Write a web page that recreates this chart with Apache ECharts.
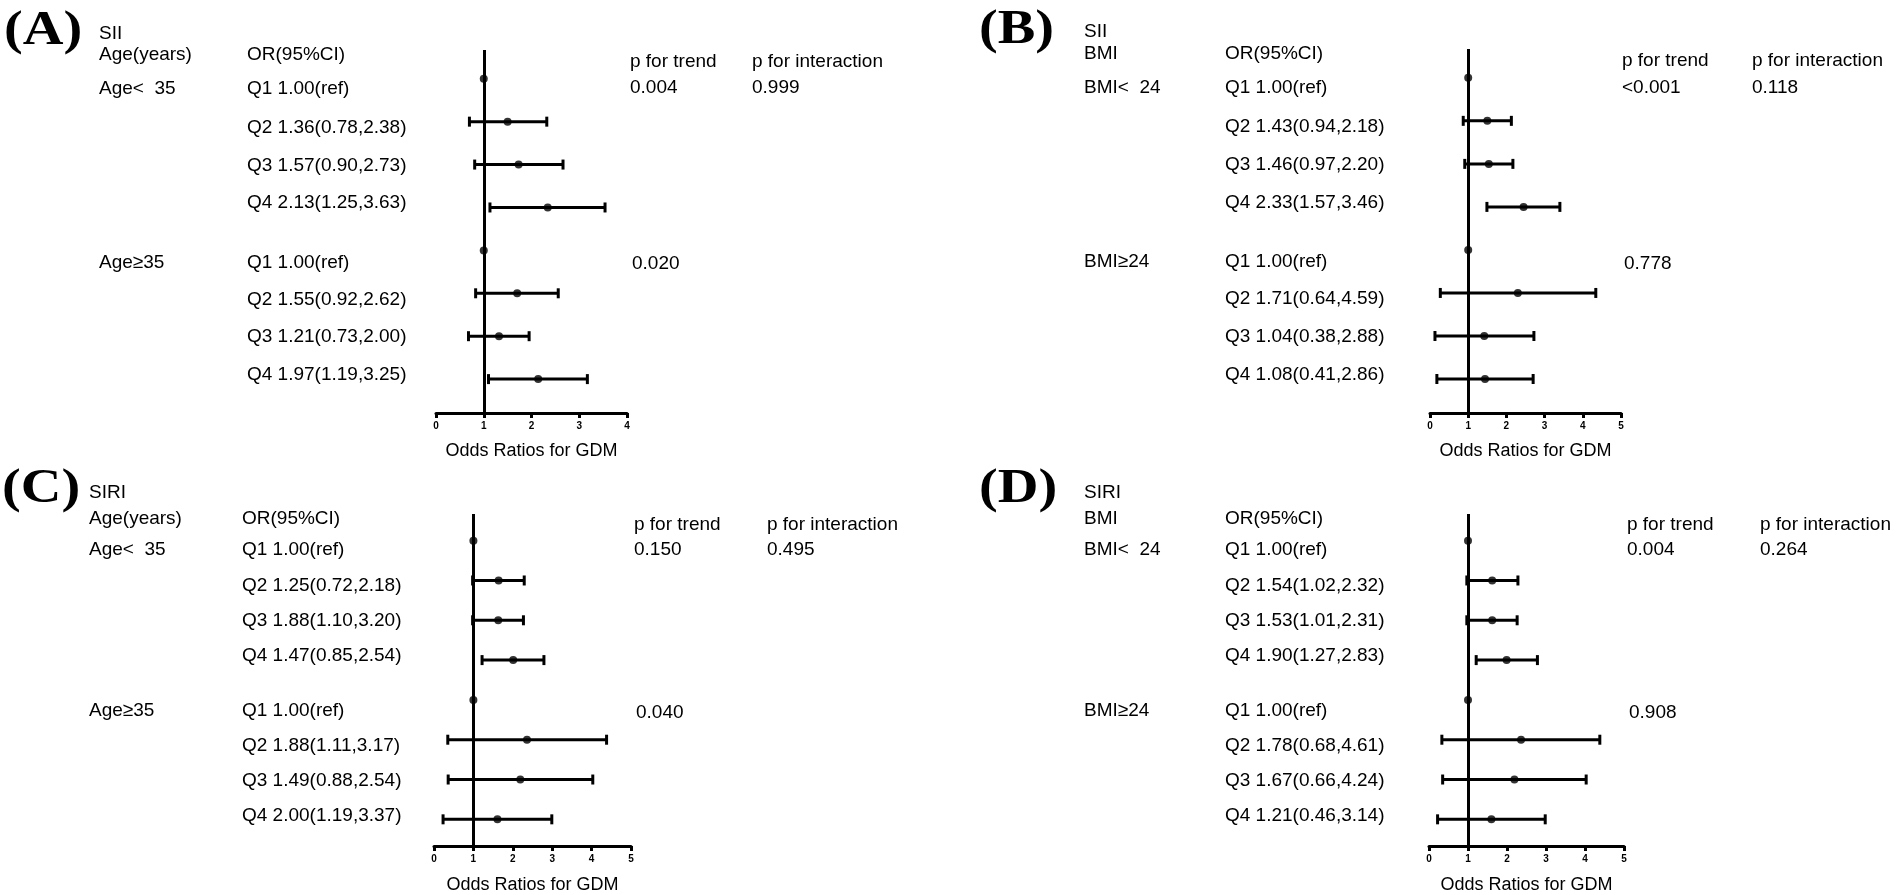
<!DOCTYPE html>
<html><head><meta charset="utf-8">
<script src="https://cdn.jsdelivr.net/npm/echarts@6/dist/echarts.min.js"></script>
<style>html,body{margin:0;padding:0;background:#fff}#c{width:1902px;height:895px}</style>
</head><body><div id="c"></div>
<script>
// ---------------- DATA ----------------
const panelLetters = ['(A)', '(B)', '(C)', '(D)'];
const indexNames = ['SII', 'SII', 'SIRI', 'SIRI'];
const subgroupHeaders = ['Age(years)', 'BMI', 'Age(years)', 'BMI'];
const subgroupLabels = [
  ['Age<  35', 'Age\u226535'],
  ['BMI<  24', 'BMI\u226524'],
  ['Age<  35', 'Age\u226535'],
  ['BMI<  24', 'BMI\u226524']
];
const orHeader = 'OR(95%CI)';
const axisTitle = 'Odds Ratios for GDM';
const pTrendHeader = 'p for trend';
const pInterHeader = 'p for interaction';

const orTextA = ['Q1 1.00(ref)', 'Q2 1.36(0.78,2.38)', 'Q3 1.57(0.90,2.73)', 'Q4 2.13(1.25,3.63)',
                 'Q1 1.00(ref)', 'Q2 1.55(0.92,2.62)', 'Q3 1.21(0.73,2.00)', 'Q4 1.97(1.19,3.25)'];
const orTextB = ['Q1 1.00(ref)', 'Q2 1.43(0.94,2.18)', 'Q3 1.46(0.97,2.20)', 'Q4 2.33(1.57,3.46)',
                 'Q1 1.00(ref)', 'Q2 1.71(0.64,4.59)', 'Q3 1.04(0.38,2.88)', 'Q4 1.08(0.41,2.86)'];
const orTextC = ['Q1 1.00(ref)', 'Q2 1.25(0.72,2.18)', 'Q3 1.88(1.10,3.20)', 'Q4 1.47(0.85,2.54)',
                 'Q1 1.00(ref)', 'Q2 1.88(1.11,3.17)', 'Q3 1.49(0.88,2.54)', 'Q4 2.00(1.19,3.37)'];
const orTextD = ['Q1 1.00(ref)', 'Q2 1.54(1.02,2.32)', 'Q3 1.53(1.01,2.31)', 'Q4 1.90(1.27,2.83)',
                 'Q1 1.00(ref)', 'Q2 1.78(0.68,4.61)', 'Q3 1.67(0.66,4.24)', 'Q4 1.21(0.46,3.14)'];

// plotted marks (point, lower, upper); null = reference row
const pointA = [1.00, 1.50, 1.73, 2.34, 1.00, 1.70, 1.32, 2.14];
const lowA   = [null, 0.70, 0.81, 1.13, null, 0.83, 0.68, 1.10];
const highA  = [null, 2.32, 2.66, 3.54, null, 2.56, 1.95, 3.17];

const pointB = [1.00, 1.50, 1.54, 2.45, 1.00, 2.30, 1.42, 1.44];
const lowB   = [null, 0.87, 0.91, 1.49, null, 0.27, 0.13, 0.18];
const highB  = [null, 2.13, 2.17, 3.40, null, 4.34, 2.72, 2.70];

const pointC = [1.00, 1.64, 1.63, 2.01, 1.00, 2.36, 2.19, 1.61];
const lowC   = [null, 0.98, 0.98, 1.22, null, 0.35, 0.36, 0.23];
const highC  = [null, 2.29, 2.27, 2.79, null, 4.38, 4.03, 2.99];

const pointD = [1.00, 1.62, 1.62, 1.99, 1.00, 2.36, 2.19, 1.60];
const lowD   = [null, 0.97, 0.97, 1.21, null, 0.33, 0.35, 0.22];
const highD  = [null, 2.28, 2.26, 2.78, null, 4.38, 4.03, 2.98];

const xTicksA = [0, 1, 2, 3, 4];
const xTicksB = [0, 1, 2, 3, 4, 5];
const xTicksC = [0, 1, 2, 3, 4, 5];
const xTicksD = [0, 1, 2, 3, 4, 5];

const pTrend = [['0.004', '0.020'], ['<0.001', '0.778'], ['0.150', '0.040'], ['0.004', '0.908']];
const pInteraction = ['0.999', '0.118', '0.495', '0.264'];

// ---------------- LAYOUT ----------------
const grids = [
  {left: 436, top: 50, width: 191, height: 363},
  {left: 1430, top: 49, width: 191, height: 364},
  {left: 434, top: 514, width: 197, height: 333},
  {left: 1429, top: 514, width: 195, height: 333}
];
const yMax = [8.79, 8.79, 8.67, 8.67];
const Y_MIN = 0.33;
const nameGaps = [29, 29, 30, 30];
const cols = [
  {letter: 4, c1: 99, c2: 247, pt: 630, pi: 752},
  {letter: 979, c1: 1084, c2: 1225, pt: 1622, pi: 1752},
  {letter: 2, c1: 89, c2: 242, pt: 634, pi: 767},
  {letter: 979, c1: 1084, c2: 1225, pt: 1627, pi: 1760}
];
const letterRows = [-0.1, -0.1, -0.3, -0.3];
const titleRows = [-0.06, -0.06, -0.2, -0.2];
const textRows = [1.24, 2.14, 3.02, 3.9, 5.28, 6.14, 7.02, 7.9];
const groupRows = [1.24, 5.28];
const pRows = [1.22, 5.32];
const rowHeader = 0.45, rowPHeader = 0.61;

const FONT = "'Liberation Sans', Arial, Helvetica, sans-serif";
const panels = [
  {orText: orTextA, point: pointA, low: lowA, high: highA, ticks: xTicksA},
  {orText: orTextB, point: pointB, low: lowB, high: highB, ticks: xTicksB},
  {orText: orTextC, point: pointC, low: lowC, high: highC, ticks: xTicksC},
  {orText: orTextD, point: pointD, low: lowD, high: highD, ticks: xTicksD}
];

const chart = echarts.init(document.getElementById('c'), null, {renderer: 'canvas'});

const option = {
  backgroundColor: '#fff',
  animation: false,
  grid: grids.map(g => Object.assign({containLabel: false}, g)),
  xAxis: panels.map((p, i) => ({
    gridIndex: i, type: 'value',
    min: p.ticks[0], max: p.ticks[p.ticks.length - 1], interval: 1,
    axisLine: {show: true, lineStyle: {color: '#000', width: 3}},
    axisTick: {show: true, length: 5, lineStyle: {color: '#000', width: 3}},
    axisLabel: {color: '#000', fontSize: 10, fontWeight: 'bold', margin: 8, fontFamily: FONT},
    splitLine: {show: false},
    name: axisTitle, nameLocation: 'middle', nameGap: nameGaps[i],
    nameTextStyle: {color: '#000', fontSize: 18, fontFamily: FONT}
  })),
  yAxis: panels.map((p, i) => ({
    gridIndex: i, type: 'value', min: Y_MIN, max: yMax[i], inverse: true, show: false,
    splitLine: {show: false}
  })),
  series: []
};

panels.forEach((p, i) => {
  const ci = [];
  p.low.forEach((lo, r) => { if (lo !== null) ci.push([lo, p.high[r], r + 1]); });
  option.series.push({
    type: 'custom', xAxisIndex: i, yAxisIndex: i, z: 3,
    encode: {x: [0, 1], y: 2},
    data: ci,
    renderItem: function (params, api) {
      const a = api.coord([api.value(0), api.value(2)]);
      const b = api.coord([api.value(1), api.value(2)]);
      const h = 5;
      const st = {stroke: '#000', lineWidth: 3};
      return {type: 'group', children: [
        {type: 'line', shape: {x1: a[0], y1: a[1], x2: b[0], y2: b[1]}, style: st},
        {type: 'line', shape: {x1: a[0], y1: a[1] - h, x2: a[0], y2: a[1] + h}, style: st},
        {type: 'line', shape: {x1: b[0], y1: b[1] - h, x2: b[0], y2: b[1] + h}, style: st}
      ]};
    }
  });
  option.series.push({
    type: 'scatter', xAxisIndex: i, yAxisIndex: i, z: 4,
    symbol: 'circle', symbolSize: 8,
    itemStyle: {color: '#000'},
    data: p.point.map((v, r) => [v, r + 1]),
    markLine: {
      silent: true, symbol: 'none', label: {show: false},
      lineStyle: {color: '#000', width: 3, type: 'solid'},
      data: [{xAxis: 1}]
    }
  });
});

chart.setOption(option);

// ---------------- TEXT ----------------
const graphics = [];
function txt(x, y, s, extra, more) {
  graphics.push(Object.assign({
    type: 'text', x: x, y: y, silent: true,
    style: Object.assign({text: s, fill: '#000', font: '19px ' + FONT,
      textAlign: 'left', textVerticalAlign: 'middle'}, extra || {})
  }, more || {}));
}
panels.forEach((p, i) => {
  const c = cols[i];
  const Y = v => chart.convertToPixel({yAxisIndex: i}, v);
  txt(c.letter, Y(letterRows[i]), panelLetters[i],
      {font: 'bold 49px "Liberation Serif", "Times New Roman", serif'}, {scaleX: 1.15});
  txt(c.c1, Y(titleRows[i]), indexNames[i]);
  txt(c.c1, Y(rowHeader), subgroupHeaders[i]);
  txt(c.c2, Y(rowHeader), orHeader);
  txt(c.pt, Y(rowPHeader), pTrendHeader);
  txt(c.pi, Y(rowPHeader), pInterHeader);
  subgroupLabels[i].forEach((s, k) => txt(c.c1, Y(groupRows[k]), s));
  p.orText.forEach((s, r) => txt(c.c2, Y(textRows[r]), s));
  pTrend[i].forEach((s, k) => txt(c.pt + (k ? 2 : 0), Y(pRows[k]), s));
  txt(c.pi, Y(pRows[0]), pInteraction[i]);
});
chart.setOption({graphic: graphics});
</script>
</body></html>
